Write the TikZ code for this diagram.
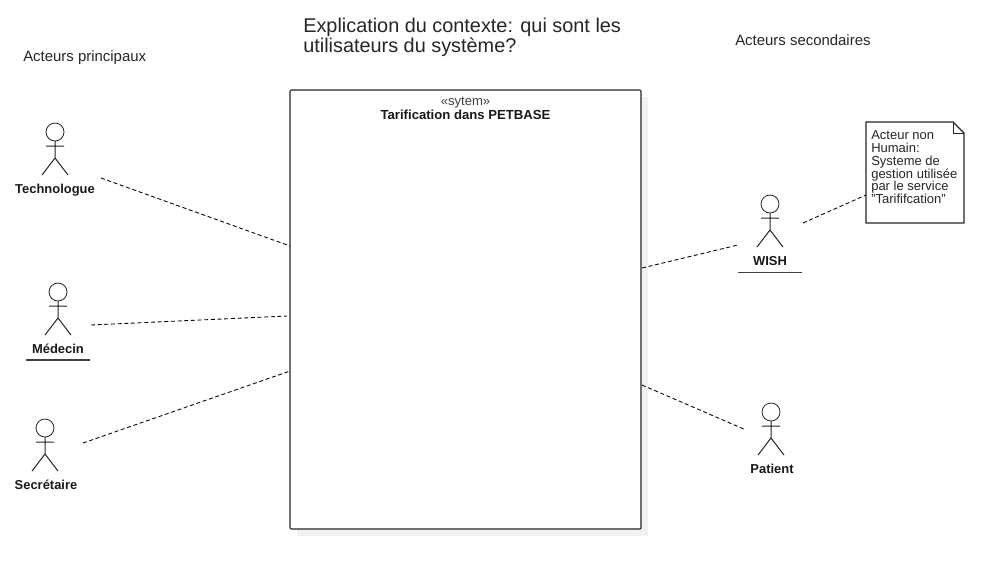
\documentclass[tikz,border=0pt]{standalone}
\usepackage{fontspec}
\setmainfont{Liberation Sans}
\usetikzlibrary{calc}
\definecolor{shadowgray}{HTML}{F1F1F1}
\tikzset{
  ln/.style={draw=black!85,line width=0.75pt},
  assoc/.style={draw=black,line width=0.65pt,dash pattern=on 3pt off 2pt},
  actorlabel/.style={font=\fontsize{9.7pt}{11pt}\selectfont\bfseries,text=black!90,inner sep=0pt,anchor=center},
  plain/.style={font=\fontsize{11.2pt}{13pt}\selectfont,text=black!85,inner sep=0pt,anchor=base west},
  underl/.style={draw=black!75,line width=1pt},
}
\newcommand{\actor}[5]{% name, x, y (head centre), label dx, label dy
  \node[circle,draw=black!85,line width=0.6pt,minimum size=18pt*0.75,inner sep=0pt,fill=white] (#1head) at (#2,#3) {};
  \coordinate (#1neck) at (#2,#3+9);
  \coordinate (#1hip) at (#2,#3+26);
  \coordinate (#1al) at (#2-9,#3+14);
  \coordinate (#1ar) at (#2+9,#3+14);
  \coordinate (#1ll) at (#2-13,#3+43);
  \coordinate (#1lr) at (#2+13,#3+43);
  \draw[ln] (#1neck) -- (#1hip) (#1al) -- (#1ar) (#1ll) -- (#1hip) -- (#1lr);
  \node[actorlabel] (#1) at (#2+#4,#3+#5) {#1};
}
\begin{document}
\begin{tikzpicture}[x=0.75pt,y=-0.75pt]
\useasboundingbox[fill=white] (0,0) rectangle (1005,569);
% system
\fill[shadowgray] (297,97) rectangle (648,536);
\draw[draw=black!85,line width=0.85pt,fill=white,rounded corners=0.8pt] (290,90) rectangle (641,529);
\node[font=\fontsize{9.8pt}{11pt}\selectfont,text=black!75,inner sep=0pt] (stereo) at (465.5,102.5) {«sytem»};
\node[font=\fontsize{9.85pt}{11pt}\selectfont\bfseries,text=black!90,inner sep=0pt] (systitle) at (465.5,115) {Tarification dans PETBASE};
% titles
\node[font=\fontsize{14.9pt}{15pt}\selectfont,text=black!85,inner sep=0pt,anchor=base west,align=left] (title) at (303,52) {Explication du contexte: qui sont les\\utilisateurs du système?};
\node[plain] (princ) at (23,61) {Acteurs principaux};
\node[plain] (sec) at (735,45) {Acteurs secondaires};
% actors
\actor{Technologue}{55}{132}{0}{58.5}
\actor{Médecin}{58}{292}{0}{57}
\actor{Secrétaire}{45}{428}{1}{56.5}
\actor{WISH}{770}{204}{0}{57}
\actor{Patient}{771}{412}{1}{56.5}
\draw[underl] (26,360) -- (90,360);
\draw[underl] (738,272.5) -- (802,272.5);
% note
\draw[draw=black!85,line width=0.85pt,fill=white] (866,122) -- (953,122) -- (964,133) -- (964,223) -- (866,223) -- cycle;
\draw[draw=black!85,line width=0.6pt] (953,122) -- (953,133) -- (964,133);
\node[font=\fontsize{9.75pt}{9.6pt}\selectfont,text=black!85,inner sep=0pt,anchor=north west,align=left] (note) at (871,130.5) {Acteur non\\Humain:\\Systeme de\\gestion utilisée\\par le service\\"Tarififcation"};
% connector ends
\coordinate (a1) at (101,178); \coordinate (s1) at (290,246);
\coordinate (a2) at (91,325);  \coordinate (s2) at (287,316);
\coordinate (a3) at (83,443);  \coordinate (s3) at (290,371);
\coordinate (a4) at (738,245); \coordinate (s4) at (642,268);
\coordinate (a5) at (746,430); \coordinate (s5) at (642,385);
\coordinate (a6) at (803,223); \coordinate (n6) at (866,195);
\draw[assoc] (a1) -- (s1);
\draw[assoc] (a2) -- (s2);
\draw[assoc] (a3) -- (s3);
\draw[assoc] (s4) -- (a4);
\draw[assoc] (s5) -- (a5);
\draw[assoc] (a6) -- (n6);
\end{tikzpicture}
\end{document}
